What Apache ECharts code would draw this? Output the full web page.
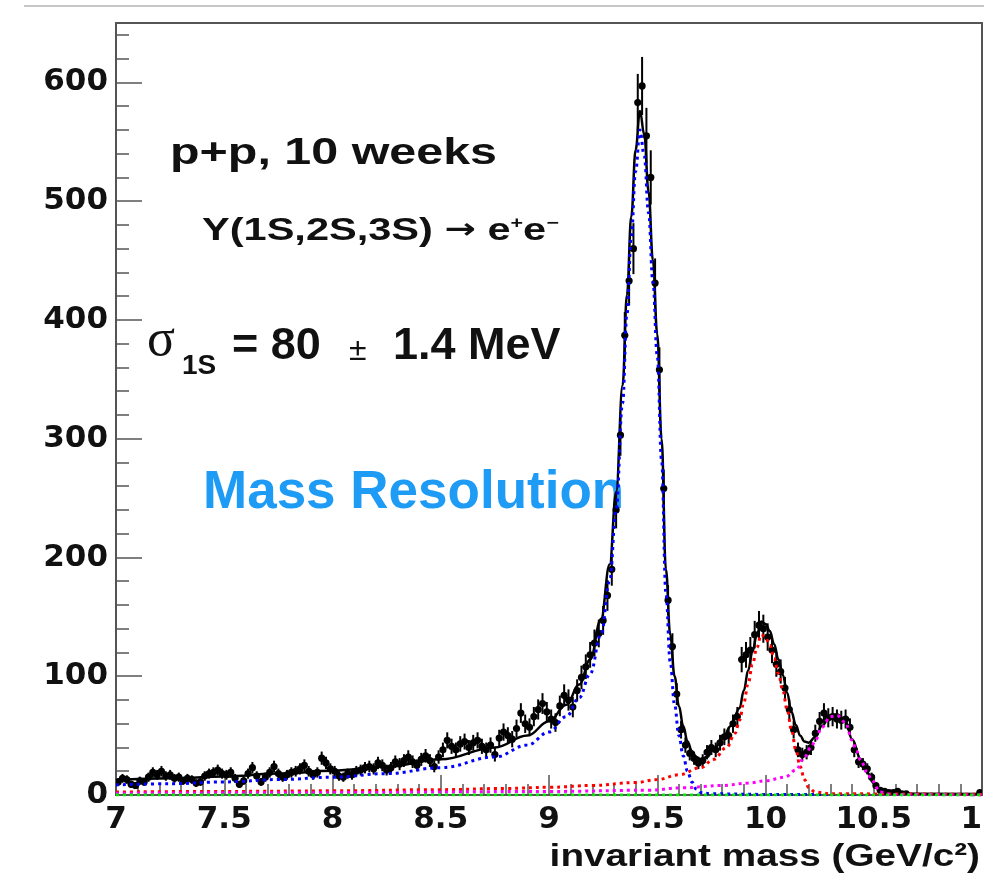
<!DOCTYPE html>
<html>
<head>
<meta charset="utf-8">
<script src="https://cdn.jsdelivr.net/npm/echarts@6/dist/echarts.min.js"></script>
<style>
html,body{margin:0;padding:0;background:#fff;}
#chart{width:984px;height:879px;}
</style>
</head>
<body>
<div id="chart"></div>
<script>
// ---- Data ----
const binStart = 7.0;
const binWidth = 0.02;
// counts per 0.02 GeV bin, centres 7.01 ... 10.99
const counts = [
  11, 14, 13, 9, 8, 12, 11, 15, 19, 17,
  20, 16, 17, 14, 15, 12, 14, 13, 10, 11,
  16, 18, 19, 21, 18, 17, 19, 14, 9, 12,
  18, 23, 16, 11, 15, 19, 24, 18, 15, 17,
  19, 20, 22, 25, 20, 17, 19, 31, 27, 22,
  20, 16, 15, 18, 17, 20, 21, 23, 24, 22,
  27, 25, 21, 23, 28, 26, 29, 32, 28, 25,
  30, 33, 29, 24, 32, 38, 46, 41, 38, 43,
  45, 40, 44, 46, 41, 38, 42, 34, 48, 53,
  50, 47, 56, 69, 60, 57, 66, 72, 77, 70,
  64, 61, 75, 84, 80, 74, 88, 99, 108, 118,
  128, 136, 147, 168, 190, 240, 303, 387, 433, 460,
  583, 597, 555, 520, 431, 358, 258, 164, 125, 85,
  55, 42, 35, 31, 27, 29, 36, 40, 38, 44,
  49, 50, 60, 66, 114, 118, 122, 135, 143, 140,
  133, 122, 110, 104, 90, 72, 55, 38, 34, 36,
  40, 52, 62, 69, 65, 66, 64, 63, 64, 57,
  38, 28, 26, 22, 15, 8, 4, 3, 2, 2,
  3, 1, 1, null, null, null, null, null, null, null,
  null, null, null, null, null, null, null, null, null, 2
];

// total fit (black solid)
const fitTotal = [
  [7.0, 12.5], [7.25, 14], [7.5, 15.5], [7.75, 18], [8.0, 20.5], [8.25, 24], [8.5, 30],
  [8.75, 40], [8.9, 50], [9.0, 62], [9.08, 76], [9.14, 93], [9.19, 114], [9.24, 148],
  [9.28, 194], [9.31, 255], [9.34, 345], [9.36, 421], [9.38, 487], [9.40, 543], [9.42, 576],
  [9.44, 556], [9.46, 508], [9.48, 450], [9.50, 388], [9.52, 300], [9.54, 190], [9.56, 135],
  [9.58, 100], [9.60, 75], [9.62, 58], [9.64, 45], [9.66, 37], [9.68, 32], [9.70, 30],
  [9.73, 32], [9.76, 38], [9.80, 47], [9.84, 58], [9.88, 73], [9.90, 88], [9.92, 105],
  [9.94, 121], [9.96, 135], [9.98, 146], [10.0, 144], [10.02, 138], [10.04, 127], [10.06, 114],
  [10.08, 101], [10.10, 86], [10.12, 70], [10.14, 59], [10.16, 50], [10.18, 45], [10.20, 44],
  [10.23, 49], [10.26, 58], [10.30, 67], [10.33, 68], [10.37, 62], [10.40, 47], [10.44, 30],
  [10.47, 19], [10.50, 10], [10.53, 3.5], [10.58, 1.2], [11.0, 0.8]
];
// Y(1S) component (blue dotted)
const fit1S = [
  [7.0, 8.5], [7.25, 9.5], [7.5, 11], [7.75, 13], [8.0, 15], [8.25, 18], [8.5, 23],
  [8.75, 32], [8.9, 42], [9.0, 53], [9.08, 66], [9.14, 82], [9.19, 102], [9.24, 135],
  [9.28, 180], [9.31, 240], [9.34, 330], [9.36, 405], [9.38, 470], [9.40, 525], [9.42, 560],
  [9.44, 538], [9.46, 490], [9.48, 432], [9.50, 370], [9.52, 282], [9.54, 170], [9.56, 112],
  [9.58, 76], [9.60, 50], [9.62, 33], [9.64, 20], [9.66, 11], [9.68, 5], [9.70, 2],
  [9.75, 1], [10.0, 0.5], [11.0, 0.3]
];
// Y(2S) component (red dotted)
const fit2S = [
  [7.0, 2.5], [7.5, 3], [8.0, 3.5], [8.5, 4.5], [8.8, 5.5], [9.0, 6.5], [9.2, 8], [9.4, 10.5],
  [9.5, 13], [9.6, 17], [9.7, 23], [9.76, 30], [9.82, 40], [9.86, 52], [9.88, 63], [9.90, 78],
  [9.92, 94], [9.94, 110], [9.96, 124], [9.98, 135], [10.0, 133], [10.02, 126], [10.04, 115],
  [10.06, 102], [10.08, 88], [10.10, 72], [10.12, 55], [10.14, 38], [10.16, 24], [10.18, 13],
  [10.20, 6], [10.23, 2.5], [10.3, 1], [11.0, 0.5]
];
// Y(3S) component (magenta dotted)
const fit3S = [
  [7.0, 1.5], [8.0, 2], [9.0, 3], [9.46, 4], [9.61, 6], [9.8, 8], [9.92, 10], [10.0, 12],
  [10.09, 15], [10.14, 21], [10.18, 32], [10.21, 40], [10.23, 46], [10.26, 57], [10.30, 66],
  [10.33, 67], [10.37, 61], [10.40, 46], [10.42, 37], [10.44, 29], [10.47, 19], [10.49, 12.6],
  [10.53, 2.5], [10.58, 0.5], [11.0, 0]
];
// background (green dotted)
const fitBkg = [[7.0, 0], [11.0, 0]];

const xTicks = { min: 7, max: 11, major: 0.5 };
const yTicks = { min: 0, max: 650, major: 100, minor: 20 };

// ---- build ----
const points = [];
counts.forEach((c, i) => {
  if (c !== null) points.push([+(binStart + binWidth * (i + 0.5)).toFixed(3), c]);
});

const labelFont = { fontFamily: 'DejaVu Sans', fontWeight: 'bold', fontSize: 31, color: '#111' };
const axisGrey = '#555';

function renderPoint(params, api) {
  const x = api.value(0), y = api.value(1);
  const e = Math.sqrt(y);
  const c = api.coord([x, y]);
  const t = api.coord([x, y + e]);
  const b = api.coord([x, Math.max(0, y - e)]);
  const l = api.coord([x - binWidth / 2, y]);
  const r = api.coord([x + binWidth / 2, y]);
  return {
    type: 'group',
    children: [
      { type: 'line', shape: { x1: c[0], y1: t[1], x2: c[0], y2: b[1] }, style: { stroke: '#000', lineWidth: 2 } },
      { type: 'line', shape: { x1: l[0], y1: c[1], x2: r[0], y2: c[1] }, style: { stroke: '#000', lineWidth: 2 } },
      { type: 'circle', shape: { cx: c[0], cy: c[1], r: 3.6 }, style: { fill: '#000' } }
    ]
  };
}

function dotted(name, data, color, z) {
  return {
    name, type: 'line', data, z,
    showSymbol: false, symbol: 'none',
    smooth: 0.4, smoothMonotone: 'x',
    lineStyle: { color, width: 3, type: [3, 4] },
    silent: true
  };
}

const chart = echarts.init(document.getElementById('chart'), null, { renderer: 'canvas' });
chart.setOption({
  animation: false,
  backgroundColor: '#fff',
  grid: { left: 116, right: 2, top: 23, bottom: 84, containLabel: false, outerBoundsMode: 'none', show: true, borderColor: axisGrey, borderWidth: 2, backgroundColor: 'transparent' },
  xAxis: {
    type: 'value', min: xTicks.min, max: xTicks.max, interval: xTicks.major,
    axisLine: { show: true, lineStyle: { color: axisGrey, width: 2 } },
    axisTick: { show: true, inside: true, length: 20, lineStyle: { color: axisGrey, width: 1.5 } },
    minorTick: { show: true, splitNumber: 5, length: 11, lineStyle: { color: axisGrey, width: 1.5 } },
    splitLine: { show: false },
    minorSplitLine: { show: false },
    axisLabel: Object.assign({ margin: 9, showMinLabel: true, showMaxLabel: true }, labelFont)
  },
  yAxis: [
    {
      type: 'value', min: yTicks.min, max: yTicks.max, interval: yTicks.major,
      axisLine: { show: true, lineStyle: { color: axisGrey, width: 2 } },
      axisTick: { show: true, inside: true, length: 26, lineStyle: { color: axisGrey, width: 1.5 } },
      splitLine: { show: false },
      axisLabel: Object.assign({ margin: 8, showMaxLabel: false }, labelFont)
    },
    {
      type: 'value', min: yTicks.min, max: yTicks.max, interval: yTicks.minor, position: 'left',
      axisLine: { show: false },
      axisTick: { show: true, inside: true, length: 13, lineStyle: { color: axisGrey, width: 1.5 } },
      splitLine: { show: false },
      axisLabel: { show: false }
    }
  ],
  series: [
    { name: 'data', type: 'custom', renderItem: renderPoint, data: points, z: 2, clip: true, encode: { x: 0, y: 1 } },
    { name: 'fit', type: 'line', data: fitTotal, z: 3, showSymbol: false, symbol: 'none', smooth: 0.4, smoothMonotone: 'x', lineStyle: { color: '#000', width: 2.5 } },
    dotted('Y(1S)', fit1S, '#0000ff', 4),
    dotted('Y(2S)', fit2S, '#ff0000', 4),
    dotted('Y(3S)', fit3S, '#ff00ff', 4),
    dotted('background', fitBkg, '#00ee00', 5)
  ],
  graphic: [
    { type: 'line', shape: { x1: 24, y1: 6, x2: 984, y2: 6 }, style: { stroke: '#b4b4b4', lineWidth: 1.5 }, silent: true },
    { type: 'text', x: 170, y: 154, scaleX: 1.345, style: { text: 'p+p, 10 weeks', font: 'bold 36px "Liberation Sans"', fill: '#111', align: 'left', verticalAlign: 'middle' } },
    { type: 'text', x: 202, y: 231, scaleX: 1.34, style: {
        text: '{a|Y(1S,2S,3S) }{b|→}{a| e}{s|+}{a|e}{s|−}',
        fill: '#111', align: 'left', verticalAlign: 'middle',
        rich: {
          a: { font: 'bold 31px "Liberation Sans"', fill: '#111' },
          b: { font: 'bold 28px "DejaVu Sans"', fill: '#111' },
          s: { font: 'bold 16px "Liberation Sans"', fill: '#111', verticalAlign: 'top' }
        }
      } },
    { type: 'text', x: 147, y: 341, style: { text: 'σ', font: '52px "Liberation Serif"', fill: '#111', align: 'left', verticalAlign: 'middle' } },
    { type: 'text', x: 182, y: 366, style: { text: '1S', font: 'bold 28px "Liberation Sans"', fill: '#111', align: 'left', verticalAlign: 'middle' } },
    { type: 'text', x: 232, y: 347, style: { text: '= 80', font: 'bold 45px "Liberation Sans"', fill: '#111', align: 'left', verticalAlign: 'middle' } },
    { type: 'text', x: 349, y: 351, style: { text: '±', font: '32px "Liberation Sans"', fill: '#111', align: 'left', verticalAlign: 'middle' } },
    { type: 'text', x: 393, y: 347, style: { text: '1.4 MeV', font: 'bold 45px "Liberation Sans"', fill: '#111', align: 'left', verticalAlign: 'middle' } },
    { type: 'text', x: 203, y: 493, style: { text: 'Mass Resolution', font: 'bold 53px "Liberation Sans"', fill: '#1d9bf5', align: 'left', verticalAlign: 'middle' } },
    { type: 'text', x: 980, y: 857, scaleX: 1.21, style: { text: 'invariant mass (GeV/c²)', font: 'bold 32px "Liberation Sans"', fill: '#111', align: 'right', verticalAlign: 'middle' } }
  ]
});
</script>
</body>
</html>
